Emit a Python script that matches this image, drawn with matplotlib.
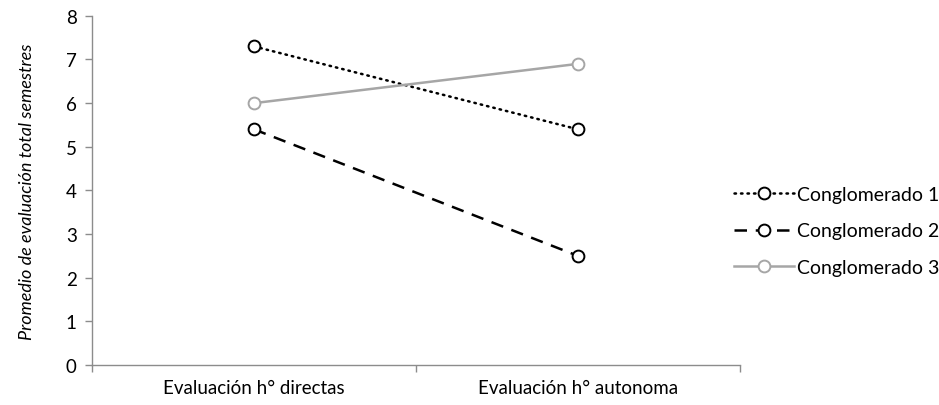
import matplotlib
matplotlib.use("Agg")
import matplotlib.pyplot as plt

plt.rcParams['font.family'] = ['Lato', 'DejaVu Sans']

categories = ["Evaluación h° directas", "Evaluación h° autonoma"]
series_names = ["Conglomerado 1", "Conglomerado 2", "Conglomerado 3"]
conglomerado_1 = [7.3, 5.4]
conglomerado_2 = [5.4, 2.5]
conglomerado_3 = [6.0, 6.9]
y_ticks = [0, 1, 2, 3, 4, 5, 6, 7, 8]

gray = "#a6a6a6"
axis_gray = "#8c8c8c"

fig = plt.figure(figsize=(9.39, 4.06), dpi=100)
ax = fig.add_axes([0.098, 0.0985, 0.69, 0.86])

x = [0.5, 1.5]
styles = [
    dict(color="black", linestyle=(0, (0.6, 2.0)), dash_capstyle="round",
         mec="black"),
    dict(color="black", linestyle=(0, (5.0, 3.5)), mec="black"),
    dict(color=gray, linestyle="-", mec=gray),
]
data = [conglomerado_1, conglomerado_2, conglomerado_3]
handles = []
for vals, st, name in zip(data, styles, series_names):
    ln, = ax.plot(x, vals, linewidth=1.8, marker="o", markersize=8.5,
                  mfc="white", mew=1.4, label=name, **st)
    handles.append(ln)

ax.set_xlim(0, 2)
ax.set_ylim(0, 8)
ax.set_yticks(y_ticks)
ax.set_xticks([0, 1, 2])
ax.set_xticklabels([])
ax.set_xticks(x, minor=True)
ax.set_xticklabels(categories, minor=True, fontsize=13.5)
ax.tick_params(axis="x", which="minor", length=0, pad=10)
ax.tick_params(axis="x", which="major", length=5, direction="out",
               color=axis_gray, width=1)
ax.tick_params(axis="y", length=5, direction="out", color=axis_gray,
               width=1, labelsize=13.5, pad=6)

for side in ("top", "right"):
    ax.spines[side].set_visible(False)
for side in ("left", "bottom"):
    ax.spines[side].set_color(axis_gray)
    ax.spines[side].set_linewidth(1)

ax.set_ylabel("Promedio de evaluación total semestres", fontsize=13,
              fontstyle="italic", labelpad=22)

fig.legend(handles=handles, loc="center left",
           bbox_to_anchor=(0.773, 0.429), frameon=False, fontsize=14,
           handlelength=3.1, handletextpad=0.15, labelspacing=1.0,
           borderaxespad=0)

fig.savefig("out.png", dpi=100)
